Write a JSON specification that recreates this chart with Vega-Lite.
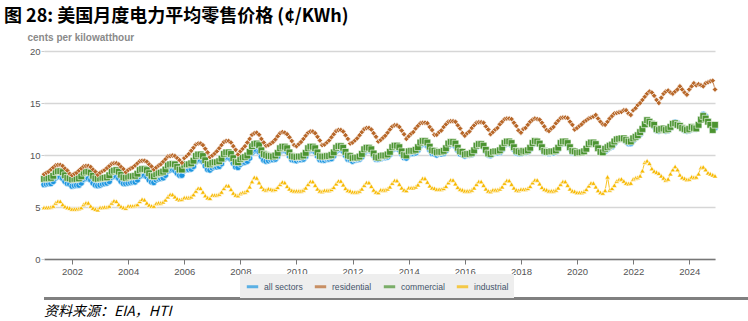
{
"$schema": "https://vega.github.io/schema/vega-lite/v6.json",
"padding": {"left": 4, "top": 8, "right": 3, "bottom": 1},
"background": "white",
"spacing": 16,
"config": {"font": "Liberation Sans", "view": {"stroke": null}},
"vconcat": [
{
"width": 671, "height": 208,
"title": {"text": "图 28:  美国月度电力平均零售价格 (¢/KWh)", "anchor": "start", "frame": "group", "dx": -40, "font": "Noto Sans CJK SC", "fontSize": 18, "fontWeight": "bold", "color": "#000000", "offset": 6},
"data": {"values": [
{"d":"2001-01","A":7.15,"R":8.15,"C":7.7,"I":4.95},
{"d":"2001-02","A":7.2,"R":8.3,"C":7.75,"I":4.95},
{"d":"2001-03","A":7.25,"R":8.4,"C":7.75,"I":4.95},
{"d":"2001-04","A":7.25,"R":8.6,"C":7.8,"I":5.0},
{"d":"2001-05","A":7.45,"R":8.8,"C":8.0,"I":5.1},
{"d":"2001-06","A":7.8,"R":9.0,"C":8.35,"I":5.4},
{"d":"2001-07","A":7.9,"R":9.05,"C":8.45,"I":5.55},
{"d":"2001-08","A":7.9,"R":9.05,"C":8.45,"I":5.55},
{"d":"2001-09","A":7.75,"R":8.95,"C":8.35,"I":5.25},
{"d":"2001-10","A":7.45,"R":8.7,"C":8.05,"I":5.05},
{"d":"2001-11","A":7.25,"R":8.5,"C":7.8,"I":4.95},
{"d":"2001-12","A":7.2,"R":8.2,"C":7.75,"I":4.9},
{"d":"2002-01","A":7.0,"R":8.05,"C":7.65,"I":4.8},
{"d":"2002-02","A":7.05,"R":8.2,"C":7.7,"I":4.8},
{"d":"2002-03","A":7.1,"R":8.3,"C":7.7,"I":4.8},
{"d":"2002-04","A":7.1,"R":8.5,"C":7.75,"I":4.85},
{"d":"2002-05","A":7.3,"R":8.7,"C":7.95,"I":4.95},
{"d":"2002-06","A":7.65,"R":8.9,"C":8.3,"I":5.25},
{"d":"2002-07","A":7.75,"R":8.95,"C":8.4,"I":5.4},
{"d":"2002-08","A":7.75,"R":8.95,"C":8.4,"I":5.4},
{"d":"2002-09","A":7.6,"R":8.85,"C":8.3,"I":5.1},
{"d":"2002-10","A":7.3,"R":8.6,"C":8.0,"I":4.9},
{"d":"2002-11","A":7.1,"R":8.4,"C":7.75,"I":4.8},
{"d":"2002-12","A":7.05,"R":8.1,"C":7.7,"I":4.75},
{"d":"2003-01","A":7.1,"R":8.3,"C":7.75,"I":4.95},
{"d":"2003-02","A":7.2,"R":8.45,"C":7.8,"I":4.95},
{"d":"2003-03","A":7.25,"R":8.55,"C":7.8,"I":5.0},
{"d":"2003-04","A":7.3,"R":8.75,"C":7.85,"I":5.0},
{"d":"2003-05","A":7.45,"R":8.95,"C":8.05,"I":5.1},
{"d":"2003-06","A":7.85,"R":9.15,"C":8.4,"I":5.4},
{"d":"2003-07","A":7.95,"R":9.2,"C":8.5,"I":5.6},
{"d":"2003-08","A":7.95,"R":9.2,"C":8.55,"I":5.55},
{"d":"2003-09","A":7.75,"R":9.1,"C":8.4,"I":5.25},
{"d":"2003-10","A":7.45,"R":8.85,"C":8.1,"I":5.05},
{"d":"2003-11","A":7.25,"R":8.65,"C":7.85,"I":4.95},
{"d":"2003-12","A":7.25,"R":8.35,"C":7.8,"I":4.9},
{"d":"2004-01","A":7.3,"R":8.55,"C":7.9,"I":5.1},
{"d":"2004-02","A":7.35,"R":8.7,"C":7.95,"I":5.1},
{"d":"2004-03","A":7.4,"R":8.8,"C":7.95,"I":5.1},
{"d":"2004-04","A":7.4,"R":9.0,"C":8.0,"I":5.15},
{"d":"2004-05","A":7.6,"R":9.2,"C":8.2,"I":5.25},
{"d":"2004-06","A":7.95,"R":9.4,"C":8.55,"I":5.55},
{"d":"2004-07","A":8.05,"R":9.45,"C":8.65,"I":5.75},
{"d":"2004-08","A":8.05,"R":9.45,"C":8.65,"I":5.7},
{"d":"2004-09","A":7.9,"R":9.35,"C":8.55,"I":5.4},
{"d":"2004-10","A":7.6,"R":9.1,"C":8.25,"I":5.2},
{"d":"2004-11","A":7.4,"R":8.9,"C":8.0,"I":5.1},
{"d":"2004-12","A":7.35,"R":8.6,"C":7.95,"I":5.1},
{"d":"2005-01","A":7.6,"R":8.8,"C":8.15,"I":5.35},
{"d":"2005-02","A":7.7,"R":9.0,"C":8.25,"I":5.4},
{"d":"2005-03","A":7.75,"R":9.1,"C":8.3,"I":5.4},
{"d":"2005-04","A":7.8,"R":9.35,"C":8.4,"I":5.5},
{"d":"2005-05","A":8.05,"R":9.6,"C":8.6,"I":5.7},
{"d":"2005-06","A":8.45,"R":9.85,"C":9.0,"I":6.0},
{"d":"2005-07","A":8.55,"R":9.9,"C":9.1,"I":6.2},
{"d":"2005-08","A":8.6,"R":9.95,"C":9.15,"I":6.2},
{"d":"2005-09","A":8.5,"R":9.9,"C":9.1,"I":6.0},
{"d":"2005-10","A":8.25,"R":9.7,"C":8.85,"I":5.8},
{"d":"2005-11","A":8.05,"R":9.5,"C":8.6,"I":5.7},
{"d":"2005-12","A":8.05,"R":9.25,"C":8.6,"I":5.75},
{"d":"2006-01","A":8.5,"R":9.7,"C":9.05,"I":5.9},
{"d":"2006-02","A":8.6,"R":9.9,"C":9.1,"I":5.9},
{"d":"2006-03","A":8.6,"R":10.1,"C":9.1,"I":5.9},
{"d":"2006-04","A":8.65,"R":10.4,"C":9.2,"I":6.0},
{"d":"2006-05","A":8.9,"R":10.7,"C":9.45,"I":6.2},
{"d":"2006-06","A":9.35,"R":11.0,"C":9.9,"I":6.55},
{"d":"2006-07","A":9.5,"R":11.1,"C":10.05,"I":6.8},
{"d":"2006-08","A":9.5,"R":11.1,"C":10.05,"I":6.8},
{"d":"2006-09","A":9.35,"R":10.95,"C":9.9,"I":6.45},
{"d":"2006-10","A":8.95,"R":10.6,"C":9.5,"I":6.1},
{"d":"2006-11","A":8.6,"R":10.25,"C":9.15,"I":5.9},
{"d":"2006-12","A":8.55,"R":9.8,"C":9.1,"I":5.85},
{"d":"2007-01","A":8.75,"R":9.95,"C":9.25,"I":6.15},
{"d":"2007-02","A":8.85,"R":10.15,"C":9.3,"I":6.15},
{"d":"2007-03","A":8.85,"R":10.35,"C":9.3,"I":6.15},
{"d":"2007-04","A":8.9,"R":10.65,"C":9.4,"I":6.25},
{"d":"2007-05","A":9.15,"R":10.95,"C":9.65,"I":6.45},
{"d":"2007-06","A":9.6,"R":11.25,"C":10.1,"I":6.8},
{"d":"2007-07","A":9.75,"R":11.35,"C":10.25,"I":7.05},
{"d":"2007-08","A":9.75,"R":11.35,"C":10.25,"I":7.05},
{"d":"2007-09","A":9.6,"R":11.2,"C":10.1,"I":6.7},
{"d":"2007-10","A":9.2,"R":10.85,"C":9.7,"I":6.35},
{"d":"2007-11","A":8.85,"R":10.5,"C":9.35,"I":6.15},
{"d":"2007-12","A":8.8,"R":10.05,"C":9.3,"I":6.1},
{"d":"2008-01","A":9.1,"R":10.35,"C":9.6,"I":6.3},
{"d":"2008-02","A":9.25,"R":10.6,"C":9.75,"I":6.4},
{"d":"2008-03","A":9.3,"R":10.85,"C":9.8,"I":6.45},
{"d":"2008-04","A":9.4,"R":11.2,"C":9.95,"I":6.6},
{"d":"2008-05","A":9.7,"R":11.55,"C":10.3,"I":6.95},
{"d":"2008-06","A":10.2,"R":11.95,"C":10.85,"I":7.45},
{"d":"2008-07","A":10.4,"R":12.1,"C":11.05,"I":7.85},
{"d":"2008-08","A":10.45,"R":12.15,"C":11.1,"I":7.8},
{"d":"2008-09","A":10.3,"R":11.95,"C":10.95,"I":7.35},
{"d":"2008-10","A":9.85,"R":11.55,"C":10.45,"I":6.95},
{"d":"2008-11","A":9.5,"R":11.2,"C":10.1,"I":6.7},
{"d":"2008-12","A":9.4,"R":10.9,"C":10.0,"I":6.65},
{"d":"2009-01","A":9.45,"R":10.95,"C":9.9,"I":6.75},
{"d":"2009-02","A":9.55,"R":11.1,"C":9.9,"I":6.7},
{"d":"2009-03","A":9.55,"R":11.25,"C":9.85,"I":6.65},
{"d":"2009-04","A":9.6,"R":11.5,"C":9.95,"I":6.7},
{"d":"2009-05","A":9.85,"R":11.8,"C":10.2,"I":6.9},
{"d":"2009-06","A":10.3,"R":12.1,"C":10.65,"I":7.2},
{"d":"2009-07","A":10.45,"R":12.2,"C":10.8,"I":7.4},
{"d":"2009-08","A":10.45,"R":12.15,"C":10.8,"I":7.35},
{"d":"2009-09","A":10.3,"R":12.0,"C":10.65,"I":7.0},
{"d":"2009-10","A":9.9,"R":11.7,"C":10.25,"I":6.75},
{"d":"2009-11","A":9.55,"R":11.35,"C":9.9,"I":6.6},
{"d":"2009-12","A":9.5,"R":10.95,"C":9.85,"I":6.55},
{"d":"2010-01","A":9.45,"R":10.85,"C":9.8,"I":6.55},
{"d":"2010-02","A":9.55,"R":11.05,"C":9.85,"I":6.55},
{"d":"2010-03","A":9.55,"R":11.25,"C":9.85,"I":6.55},
{"d":"2010-04","A":9.6,"R":11.55,"C":9.95,"I":6.65},
{"d":"2010-05","A":9.85,"R":11.85,"C":10.2,"I":6.85},
{"d":"2010-06","A":10.3,"R":12.15,"C":10.65,"I":7.2},
{"d":"2010-07","A":10.45,"R":12.25,"C":10.8,"I":7.45},
{"d":"2010-08","A":10.45,"R":12.25,"C":10.8,"I":7.45},
{"d":"2010-09","A":10.3,"R":12.1,"C":10.65,"I":7.1},
{"d":"2010-10","A":9.9,"R":11.75,"C":10.25,"I":6.75},
{"d":"2010-11","A":9.55,"R":11.4,"C":9.9,"I":6.55},
{"d":"2010-12","A":9.5,"R":10.95,"C":9.85,"I":6.5},
{"d":"2011-01","A":9.5,"R":11.0,"C":9.85,"I":6.6},
{"d":"2011-02","A":9.6,"R":11.2,"C":9.9,"I":6.6},
{"d":"2011-03","A":9.6,"R":11.4,"C":9.9,"I":6.6},
{"d":"2011-04","A":9.65,"R":11.7,"C":10.0,"I":6.7},
{"d":"2011-05","A":9.9,"R":12.0,"C":10.25,"I":6.9},
{"d":"2011-06","A":10.35,"R":12.3,"C":10.7,"I":7.25},
{"d":"2011-07","A":10.5,"R":12.4,"C":10.85,"I":7.5},
{"d":"2011-08","A":10.5,"R":12.4,"C":10.85,"I":7.5},
{"d":"2011-09","A":10.35,"R":12.25,"C":10.7,"I":7.15},
{"d":"2011-10","A":9.95,"R":11.9,"C":10.3,"I":6.8},
{"d":"2011-11","A":9.6,"R":11.55,"C":9.95,"I":6.6},
{"d":"2011-12","A":9.55,"R":11.1,"C":9.9,"I":6.55},
{"d":"2012-01","A":9.4,"R":11.2,"C":9.7,"I":6.45},
{"d":"2012-02","A":9.5,"R":11.4,"C":9.75,"I":6.45},
{"d":"2012-03","A":9.55,"R":11.6,"C":9.75,"I":6.45},
{"d":"2012-04","A":9.6,"R":11.9,"C":9.85,"I":6.55},
{"d":"2012-05","A":9.8,"R":12.2,"C":10.1,"I":6.75},
{"d":"2012-06","A":10.25,"R":12.5,"C":10.55,"I":7.1},
{"d":"2012-07","A":10.45,"R":12.6,"C":10.7,"I":7.35},
{"d":"2012-08","A":10.45,"R":12.6,"C":10.7,"I":7.35},
{"d":"2012-09","A":10.35,"R":12.45,"C":10.55,"I":7.0},
{"d":"2012-10","A":9.95,"R":12.1,"C":10.15,"I":6.65},
{"d":"2012-11","A":9.6,"R":11.75,"C":9.8,"I":6.45},
{"d":"2012-12","A":9.6,"R":11.3,"C":9.75,"I":6.4},
{"d":"2013-01","A":9.65,"R":11.45,"C":9.9,"I":6.65},
{"d":"2013-02","A":9.75,"R":11.65,"C":9.95,"I":6.65},
{"d":"2013-03","A":9.75,"R":11.85,"C":9.95,"I":6.65},
{"d":"2013-04","A":9.8,"R":12.15,"C":10.05,"I":6.75},
{"d":"2013-05","A":10.05,"R":12.45,"C":10.3,"I":6.95},
{"d":"2013-06","A":10.5,"R":12.75,"C":10.75,"I":7.3},
{"d":"2013-07","A":10.65,"R":12.85,"C":10.9,"I":7.55},
{"d":"2013-08","A":10.65,"R":12.85,"C":10.9,"I":7.55},
{"d":"2013-09","A":10.5,"R":12.7,"C":10.75,"I":7.2},
{"d":"2013-10","A":10.1,"R":12.35,"C":10.35,"I":6.85},
{"d":"2013-11","A":9.75,"R":12.0,"C":10.0,"I":6.65},
{"d":"2013-12","A":9.7,"R":11.55,"C":9.95,"I":6.6},
{"d":"2014-01","A":10.05,"R":11.8,"C":10.35,"I":6.85},
{"d":"2014-02","A":10.15,"R":12.05,"C":10.4,"I":6.85},
{"d":"2014-03","A":10.15,"R":12.2,"C":10.4,"I":6.85},
{"d":"2014-04","A":10.2,"R":12.55,"C":10.5,"I":6.95},
{"d":"2014-05","A":10.45,"R":12.8,"C":10.75,"I":7.15},
{"d":"2014-06","A":10.9,"R":13.05,"C":11.2,"I":7.5},
{"d":"2014-07","A":11.05,"R":13.1,"C":11.35,"I":7.75},
{"d":"2014-08","A":11.05,"R":13.1,"C":11.35,"I":7.75},
{"d":"2014-09","A":10.9,"R":13.05,"C":11.2,"I":7.4},
{"d":"2014-10","A":10.5,"R":12.7,"C":10.8,"I":7.05},
{"d":"2014-11","A":10.15,"R":12.4,"C":10.45,"I":6.85},
{"d":"2014-12","A":10.1,"R":11.95,"C":10.4,"I":6.8},
{"d":"2015-01","A":10.0,"R":11.95,"C":10.25,"I":6.7},
{"d":"2015-02","A":10.1,"R":12.2,"C":10.3,"I":6.7},
{"d":"2015-03","A":10.1,"R":12.35,"C":10.3,"I":6.7},
{"d":"2015-04","A":10.15,"R":12.7,"C":10.4,"I":6.8},
{"d":"2015-05","A":10.4,"R":12.95,"C":10.65,"I":7.0},
{"d":"2015-06","A":10.85,"R":13.2,"C":11.1,"I":7.35},
{"d":"2015-07","A":11.0,"R":13.25,"C":11.25,"I":7.6},
{"d":"2015-08","A":11.0,"R":13.25,"C":11.25,"I":7.6},
{"d":"2015-09","A":10.85,"R":13.2,"C":11.1,"I":7.25},
{"d":"2015-10","A":10.45,"R":12.85,"C":10.7,"I":6.9},
{"d":"2015-11","A":10.1,"R":12.55,"C":10.35,"I":6.7},
{"d":"2015-12","A":10.05,"R":12.1,"C":10.3,"I":6.65},
{"d":"2016-01","A":9.9,"R":11.85,"C":10.05,"I":6.55},
{"d":"2016-02","A":10.0,"R":12.1,"C":10.1,"I":6.55},
{"d":"2016-03","A":10.0,"R":12.25,"C":10.1,"I":6.55},
{"d":"2016-04","A":10.05,"R":12.6,"C":10.2,"I":6.65},
{"d":"2016-05","A":10.3,"R":12.85,"C":10.45,"I":6.85},
{"d":"2016-06","A":10.75,"R":13.1,"C":10.9,"I":7.2},
{"d":"2016-07","A":10.9,"R":13.15,"C":11.05,"I":7.45},
{"d":"2016-08","A":10.9,"R":13.15,"C":11.05,"I":7.45},
{"d":"2016-09","A":10.75,"R":13.1,"C":10.9,"I":7.1},
{"d":"2016-10","A":10.35,"R":12.75,"C":10.5,"I":6.75},
{"d":"2016-11","A":10.0,"R":12.45,"C":10.15,"I":6.55},
{"d":"2016-12","A":9.95,"R":12.0,"C":10.1,"I":6.5},
{"d":"2017-01","A":10.1,"R":12.2,"C":10.3,"I":6.65},
{"d":"2017-02","A":10.2,"R":12.45,"C":10.35,"I":6.65},
{"d":"2017-03","A":10.2,"R":12.6,"C":10.35,"I":6.65},
{"d":"2017-04","A":10.25,"R":12.95,"C":10.45,"I":6.75},
{"d":"2017-05","A":10.5,"R":13.2,"C":10.7,"I":6.95},
{"d":"2017-06","A":10.95,"R":13.45,"C":11.15,"I":7.3},
{"d":"2017-07","A":11.1,"R":13.5,"C":11.3,"I":7.55},
{"d":"2017-08","A":11.1,"R":13.5,"C":11.3,"I":7.55},
{"d":"2017-09","A":10.95,"R":13.45,"C":11.15,"I":7.2},
{"d":"2017-10","A":10.55,"R":13.1,"C":10.75,"I":6.85},
{"d":"2017-11","A":10.2,"R":12.8,"C":10.4,"I":6.65},
{"d":"2017-12","A":10.15,"R":12.35,"C":10.35,"I":6.6},
{"d":"2018-01","A":10.15,"R":12.15,"C":10.25,"I":6.7},
{"d":"2018-02","A":10.25,"R":12.5,"C":10.4,"I":6.7},
{"d":"2018-03","A":10.25,"R":12.6,"C":10.35,"I":6.7},
{"d":"2018-04","A":10.3,"R":12.9,"C":10.45,"I":6.8},
{"d":"2018-05","A":10.55,"R":13.2,"C":10.7,"I":7.0},
{"d":"2018-06","A":11.0,"R":13.4,"C":11.15,"I":7.35},
{"d":"2018-07","A":11.15,"R":13.5,"C":11.35,"I":7.6},
{"d":"2018-08","A":11.15,"R":13.45,"C":11.3,"I":7.6},
{"d":"2018-09","A":11.0,"R":13.4,"C":11.1,"I":7.25},
{"d":"2018-10","A":10.6,"R":13.1,"C":10.75,"I":6.9},
{"d":"2018-11","A":10.25,"R":12.75,"C":10.4,"I":6.7},
{"d":"2018-12","A":10.2,"R":12.4,"C":10.3,"I":6.65},
{"d":"2019-01","A":10.15,"R":12.3,"C":10.3,"I":6.55},
{"d":"2019-02","A":10.25,"R":12.55,"C":10.35,"I":6.55},
{"d":"2019-03","A":10.2,"R":12.7,"C":10.35,"I":6.55},
{"d":"2019-04","A":10.3,"R":13.05,"C":10.45,"I":6.65},
{"d":"2019-05","A":10.55,"R":13.3,"C":10.7,"I":6.85},
{"d":"2019-06","A":11.0,"R":13.55,"C":11.15,"I":7.2},
{"d":"2019-07","A":11.15,"R":13.6,"C":11.3,"I":7.45},
{"d":"2019-08","A":11.15,"R":13.6,"C":11.3,"I":7.45},
{"d":"2019-09","A":11.0,"R":13.55,"C":11.15,"I":7.1},
{"d":"2019-10","A":10.6,"R":13.2,"C":10.75,"I":6.75},
{"d":"2019-11","A":10.25,"R":12.9,"C":10.4,"I":6.55},
{"d":"2019-12","A":10.2,"R":12.45,"C":10.35,"I":6.5},
{"d":"2020-01","A":10.2,"R":12.6,"C":10.2,"I":6.4},
{"d":"2020-02","A":10.3,"R":12.8,"C":10.25,"I":6.4},
{"d":"2020-03","A":10.3,"R":12.95,"C":10.25,"I":6.4},
{"d":"2020-04","A":10.35,"R":13.2,"C":10.35,"I":6.5},
{"d":"2020-05","A":10.6,"R":13.35,"C":10.6,"I":6.7},
{"d":"2020-06","A":11.05,"R":13.5,"C":11.05,"I":7.05},
{"d":"2020-07","A":11.2,"R":13.6,"C":11.2,"I":7.3},
{"d":"2020-08","A":11.2,"R":13.7,"C":11.2,"I":7.3},
{"d":"2020-09","A":11.05,"R":13.85,"C":11.05,"I":6.95},
{"d":"2020-10","A":10.65,"R":13.5,"C":10.65,"I":6.6},
{"d":"2020-11","A":10.3,"R":13.2,"C":10.3,"I":6.4},
{"d":"2020-12","A":10.25,"R":12.95,"C":10.25,"I":6.35},
{"d":"2021-01","A":10.35,"R":12.9,"C":10.6,"I":6.6},
{"d":"2021-02","A":10.55,"R":13.2,"C":10.75,"I":7.9},
{"d":"2021-03","A":10.7,"R":13.5,"C":10.9,"I":6.65},
{"d":"2021-04","A":10.8,"R":13.75,"C":11.0,"I":6.8},
{"d":"2021-05","A":11.1,"R":14.0,"C":11.3,"I":7.1},
{"d":"2021-06","A":11.4,"R":14.05,"C":11.5,"I":7.5},
{"d":"2021-07","A":11.55,"R":14.1,"C":11.55,"I":7.65},
{"d":"2021-08","A":11.6,"R":14.15,"C":11.6,"I":7.7},
{"d":"2021-09","A":11.5,"R":14.3,"C":11.6,"I":7.5},
{"d":"2021-10","A":11.3,"R":14.3,"C":11.45,"I":7.3},
{"d":"2021-11","A":11.1,"R":14.0,"C":11.3,"I":7.25},
{"d":"2021-12","A":11.1,"R":13.85,"C":11.3,"I":7.3},
{"d":"2022-01","A":11.4,"R":14.3,"C":11.6,"I":7.7},
{"d":"2022-02","A":11.6,"R":14.5,"C":11.75,"I":7.8},
{"d":"2022-03","A":11.75,"R":14.8,"C":11.9,"I":7.85},
{"d":"2022-04","A":12.0,"R":15.0,"C":12.2,"I":8.0},
{"d":"2022-05","A":12.35,"R":15.3,"C":12.5,"I":8.5},
{"d":"2022-06","A":12.9,"R":15.6,"C":12.95,"I":9.3},
{"d":"2022-07","A":13.3,"R":15.9,"C":13.35,"I":9.45},
{"d":"2022-08","A":13.2,"R":16.1,"C":13.2,"I":9.2},
{"d":"2022-09","A":12.95,"R":16.0,"C":13.0,"I":8.7},
{"d":"2022-10","A":12.75,"R":15.7,"C":12.9,"I":8.45},
{"d":"2022-11","A":12.35,"R":15.3,"C":12.5,"I":8.35},
{"d":"2022-12","A":12.3,"R":15.0,"C":12.4,"I":8.25},
{"d":"2023-01","A":12.45,"R":15.5,"C":12.5,"I":8.0},
{"d":"2023-02","A":12.45,"R":15.9,"C":12.55,"I":7.8},
{"d":"2023-03","A":12.3,"R":16.1,"C":12.4,"I":7.6},
{"d":"2023-04","A":12.35,"R":16.2,"C":12.5,"I":7.7},
{"d":"2023-05","A":12.6,"R":16.0,"C":12.7,"I":8.2},
{"d":"2023-06","A":13.0,"R":15.9,"C":13.0,"I":8.6},
{"d":"2023-07","A":13.15,"R":16.1,"C":13.05,"I":8.9},
{"d":"2023-08","A":13.05,"R":16.3,"C":12.9,"I":8.6},
{"d":"2023-09","A":12.8,"R":16.6,"C":12.8,"I":8.1},
{"d":"2023-10","A":12.5,"R":16.3,"C":12.6,"I":7.85},
{"d":"2023-11","A":12.35,"R":16.0,"C":12.5,"I":7.75},
{"d":"2023-12","A":12.3,"R":15.8,"C":12.4,"I":7.65},
{"d":"2024-01","A":12.35,"R":16.3,"C":12.5,"I":7.7},
{"d":"2024-02","A":12.55,"R":16.6,"C":12.7,"I":7.9},
{"d":"2024-03","A":12.5,"R":16.9,"C":12.6,"I":7.85},
{"d":"2024-04","A":12.5,"R":16.7,"C":12.55,"I":7.9},
{"d":"2024-05","A":12.85,"R":16.8,"C":12.9,"I":8.2},
{"d":"2024-06","A":13.45,"R":16.7,"C":13.4,"I":8.8},
{"d":"2024-07","A":13.9,"R":16.6,"C":13.75,"I":8.85},
{"d":"2024-08","A":13.7,"R":16.9,"C":13.5,"I":8.6},
{"d":"2024-09","A":13.25,"R":17.0,"C":13.2,"I":8.3},
{"d":"2024-10","A":12.85,"R":17.1,"C":12.9,"I":8.2},
{"d":"2024-11","A":12.4,"R":17.15,"C":12.4,"I":8.1},
{"d":"2024-12","A":12.6,"R":16.3,"C":12.9,"I":8.0}
]},
"transform": [{"fold": ["A", "R", "C", "I"], "as": ["s", "v"]}],
"encoding": {
"x": {"field": "d", "type": "temporal", "scale": {"nice": false},
"axis": {"title": null, "format": "%Y", "tickCount": {"interval": "year", "step": 2}, "grid": false, "domainColor": "#777777", "domainWidth": 1.5, "tickColor": "#777777", "tickSize": 5, "labelFontSize": 9.5, "labelColor": "#555555", "labelPadding": 2, "labelFont": "Liberation Sans"}},
"y": {"field": "v", "type": "quantitative", "scale": {"domain": [0, 20]},
"axis": {"values": [0, 5, 10, 15, 20], "title": "cents per kilowatthour", "titleAngle": 0, "titleAlign": "left", "titleBaseline": "middle", "titleX": -17, "titleY": -14, "titleFontSize": 10, "titleFontWeight": "bold", "titleColor": "#8a8a8a", "titleFont": "Liberation Sans", "labelFontSize": 9.5, "labelColor": "#555555", "labelFont": "Liberation Sans", "ticks": true, "tickSize": 3, "tickColor": "#cccccc", "domain": false, "gridColor": "#d6d6d6", "gridWidth": 1.5, "labelPadding": 1}}
},
"layer": [
{"mark": {"type": "line", "strokeWidth": 1, "opacity": 0.85},
"encoding": {
"color": {"field": "s", "type": "nominal",
"scale": {"domain": ["A", "R", "C", "I"], "range": ["#1d96e0", "#b8682a", "#4b9431", "#f7b900"]},
"legend": {"orient": "none", "legendX": 196, "legendY": 223, "direction": "horizontal", "title": null, "symbolType": "stroke", "symbolStrokeWidth": 3, "symbolSize": 130, "symbolOpacity": 0.7, "labelFontSize": 8.6, "labelFont": "Liberation Sans", "labelColor": "#44546a", "fillColor": "#eeeeee", "padding": 5, "columnPadding": 5, "labelOffset": 4,
"labelExpr": "{'A': 'all sectors', 'R': 'residential', 'C': 'commercial', 'I': 'industrial'}[datum.label]"}}
}},
{"transform": [{"filter": "datum.s === 'A'"}],
"mark": {"type": "point", "shape": "circle", "filled": true, "fill": "#1d96e0", "size": 40, "opacity": 1, "stroke": "white", "strokeWidth": 0.6}},
{"transform": [{"filter": "datum.s === 'C'"}],
"mark": {"type": "point", "shape": "square", "filled": true, "fill": "#4b9431", "size": 45, "opacity": 1, "stroke": "white", "strokeWidth": 0.6}},
{"transform": [{"filter": "datum.s === 'I'"}],
"mark": {"type": "point", "shape": "triangle-up", "filled": true, "fill": "#f7b900", "size": 28, "opacity": 1, "stroke": "white", "strokeWidth": 0.6}},
{"transform": [{"filter": "datum.s === 'R'"}],
"mark": {"type": "point", "shape": "diamond", "filled": true, "fill": "#b8682a", "size": 30, "opacity": 1, "stroke": "white", "strokeWidth": 0.6}}
]
},
{
"width": 741, "height": 3,
"view": {"fill": "#808080", "stroke": null},
"data": {"values": [{"t": ""}]},
"mark": {"type": "text"},
"encoding": {"text": {"field": "t", "type": "nominal"}},
"title": {"text": "资料来源：EIA，HTI", "orient": "bottom", "anchor": "start", "frame": "group", "font": "Noto Sans CJK SC", "fontSize": 14, "fontStyle": "italic", "fontWeight": "normal", "color": "#000000", "offset": 1}
}
]
}
